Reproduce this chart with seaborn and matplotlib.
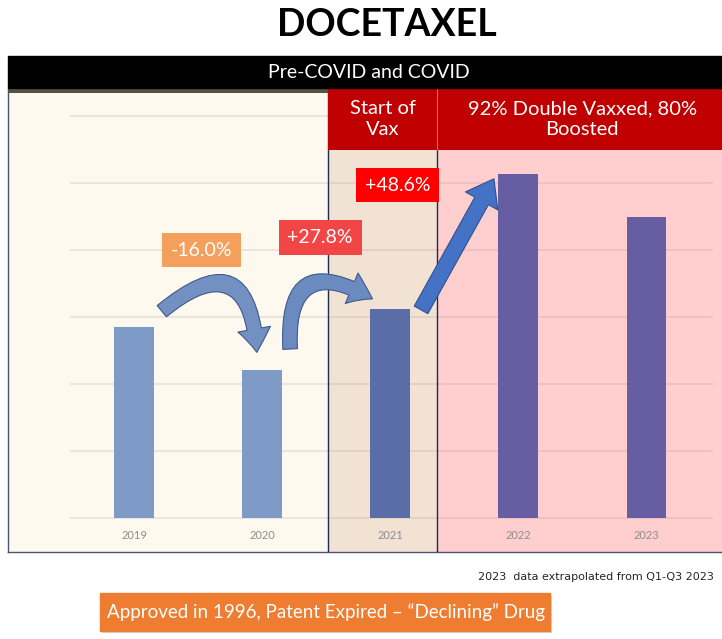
import matplotlib
matplotlib.use("Agg")
import matplotlib.pyplot as plt
from matplotlib.patches import Rectangle, FancyArrowPatch, FancyBboxPatch
import seaborn as sns
import pandas as pd

# data (heights in grid units above the baseline, axis has no labels)
years = ['2019', '2020', '2021', '2022', '2023']
values = [2.85, 2.21, 3.12, 5.13, 4.49]
bar_colors = ['#7E9AC7', '#7E9AC7', '#5A6DA6', '#665DA2', '#665DA2']
changes = ['-16.0%', '+27.8%', '+48.6%']
change_colors = ['#F4A05C', '#F24646', '#FF0000']
header_left = 'Pre-COVID and COVID'
header_vax = 'Start of\nVax'
header_boost = '92% Double Vaxxed, 80%\nBoosted'
title = 'DOCETAXEL'
footnote = '2023  data extrapolated from Q1-Q3 2023'
banner = 'Approved in 1996, Patent Expired \u2013 \u201cDeclining\u201d Drug'

sns.set_style('white')
plt.rcParams['font.family'] = ['Lato', 'DejaVu Sans']

fig = plt.figure(figsize=(7.22, 6.39), dpi=100)
ax = fig.add_axes([8/722, 1-552/639, 714/722, 464/639])

df = pd.DataFrame({'year': years, 'value': values})
sns.barplot(data=df, x='year', y='value', hue='year', palette=bar_colors,
            legend=False, width=0.31, saturation=1, linewidth=0, ax=ax, zorder=3)

x_lo, x_hi = -0.984, 4.59
y_lo, y_hi = -0.51, 6.42
ax.set_xlim(x_lo, x_hi)
ax.set_ylim(y_lo, y_hi)

# background zones
split1, split2 = 1.516, 2.367
ax.axvspan(x_lo, split1, color='#FDF9EE', zorder=0)
ax.axvspan(split1, split2, color='#F2E2D4', zorder=0)
ax.axvspan(split2, x_hi, color='#FFCFD0', zorder=0)
ax.axvline(split1, color='#1F2B4F', lw=1.0, zorder=4)
ax.axvline(split2, color='#1F2B4F', lw=1.0, zorder=4)

# gridlines
for g in range(0, 7):
    ax.hlines(g, -0.5, 4.52, color='#7a6a60', alpha=0.15, lw=1.3, zorder=1)

# red header for the vaccine columns
hdr_y = 5.49
ax.add_patch(Rectangle((split1, hdr_y), x_hi - split1, y_hi - hdr_y,
                       color='#C00000', zorder=5, lw=0))
ax.vlines(split2, hdr_y, y_hi, color='#F06060', lw=0.8, zorder=6)
ax.add_patch(Rectangle((x_lo, y_hi - 0.08), split1 - x_lo, 0.08,
                       color='#5B5048', zorder=5, lw=0))
ax.text((split1 + split2) / 2, (hdr_y + y_hi) / 2, header_vax, color='white',
        ha='center', va='center', fontsize=14.5, linespacing=1.3, zorder=6)
ax.text((split2 + x_hi) / 2 + 0.02, (hdr_y + y_hi) / 2, header_boost, color='white',
        ha='center', va='center', fontsize=14.5, linespacing=1.3, zorder=6)

# year labels under the bars
for i, yr in enumerate(years):
    ax.text(i, -0.27, yr, ha='center', va='center', fontsize=8,
            color='#8C8C8C', zorder=6)

# curved arrows between bars
arrow_kw = dict(arrowstyle='simple,head_width=1.7,head_length=1.2,tail_width=0.75',
                mutation_scale=14, zorder=7, lw=0.8)
a1 = FancyArrowPatch((0.2, values[0] + 0.21), (0.96, values[1] + 0.22),
                     connectionstyle='arc3,rad=-1.0', fc='#7390C2', ec='#3E5A8A', **arrow_kw)
a2 = FancyArrowPatch((1.22, values[1] + 0.27), (1.88, values[2] + 0.13),
                     connectionstyle='arc3,rad=-0.95', fc='#6B8AC0', ec='#3E5A8A', **arrow_kw)
a3 = FancyArrowPatch((2.23, values[2] - 0.05), (2.82, values[3] - 0.03),
                     connectionstyle='arc3,rad=0', fc='#4472C4', ec='#2F528F',
                     arrowstyle='simple,head_width=1.9,head_length=1.3,tail_width=0.8',
                     mutation_scale=14, zorder=7, lw=0.8)
for a in (a1, a2, a3):
    ax.add_patch(a)

# percentage change labels
label_pos = [(0.523, 4.0), (1.453, 4.19), (2.06, 4.97)]
for (lx, ly), txt, col in zip(label_pos, changes, change_colors):
    ax.text(lx, ly, txt, ha='center', va='center', color='white', fontsize=14,
            zorder=8, bbox=dict(boxstyle='square,pad=0.45', fc=col, ec='none'))

for s in ['top', 'right']:
    ax.spines[s].set_visible(False)
for s in ['left', 'bottom']:
    ax.spines[s].set_color('#4A5570')
    ax.spines[s].set_linewidth(1.0)
ax.set_xticks([])
ax.set_yticks([])
ax.set_xlabel('')
ax.set_ylabel('')

# black header bar and title
fig.patches.append(Rectangle((8/722, 1-88/639), 714/722, 32/639,
                             transform=fig.transFigure, color='black', zorder=1))
fig.text(369/722, 1-72/639, header_left, color='white', ha='center', va='center',
         fontsize=14)
fig.text(387/722, 1-25/639, title, ha='center', va='center', fontsize=27,
         fontweight='bold', color='black')

# footnote and banner
fig.text(714/722, 1-577/639, footnote, ha='right', va='center', fontsize=8,
         family=['Liberation Sans Narrow', 'DejaVu Sans'])
fig.patches.append(FancyBboxPatch((102/722, 1-633/639), 450/722, 38/639,
                                  boxstyle='square,pad=0', transform=fig.transFigure,
                                  fc='#B5B5B5', ec='none', alpha=0.5, zorder=1))
fig.patches.append(Rectangle((100/722, 1-631/639), 450/722, 38/639,
                             transform=fig.transFigure, color='#EE7D32', zorder=2))
fig.text(326/722, 1-612/639, banner, color='white', ha='center', va='center',
         fontsize=13.5)

fig.savefig('out.png', dpi=100)
